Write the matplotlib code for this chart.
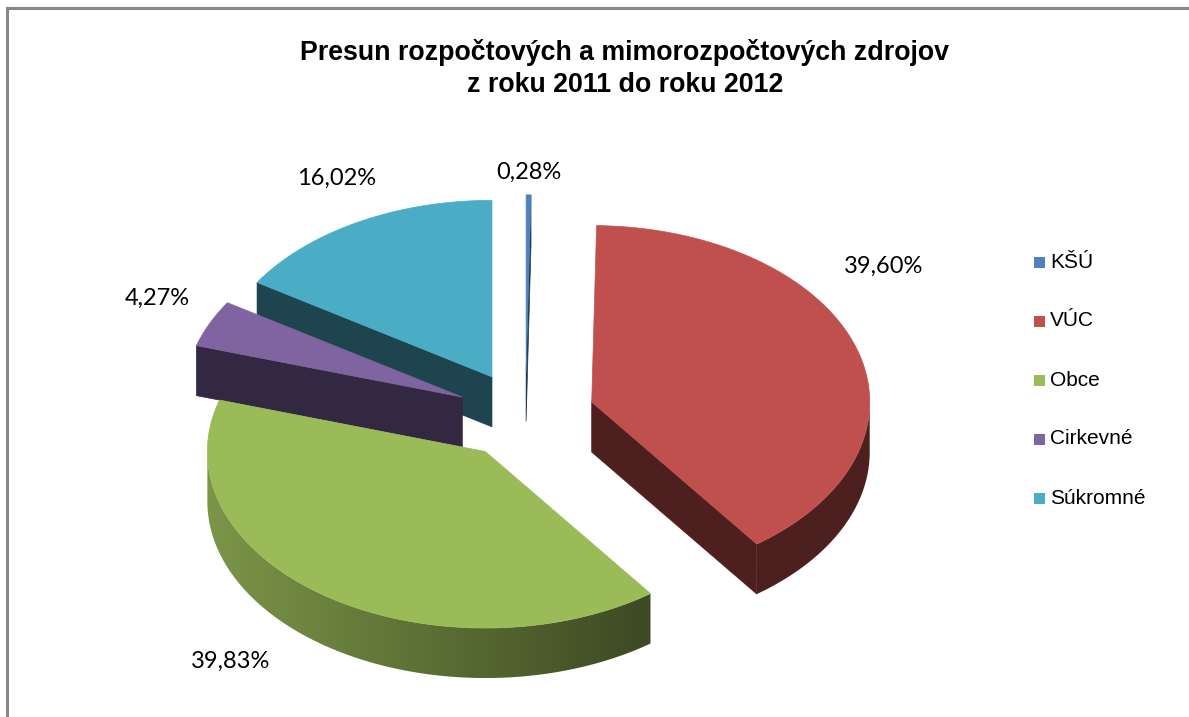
import numpy as np
import matplotlib
matplotlib.use("Agg")
import matplotlib.pyplot as plt
from matplotlib.patches import Polygon, Rectangle
from matplotlib.lines import Line2D
from matplotlib.colors import to_rgb

# ---- data ----
title = "Presun rozpočtových a mimorozpočtových zdrojov\nz roku 2011 do roku 2012"
categories = ["KŠÚ", "VÚC", "Obce", "Cirkevné", "Súkromné"]
values = [0.28, 39.60, 39.83, 4.27, 16.02]
labels = ["0,28%", "39,60%", "39,83%", "4,27%", "16,02%"]
colors = ["#4F81BD", "#C0504D", "#9BBB59", "#8064A2", "#4BACC6"]

# ---- layout (pixel space of the figure) ----
W, H = 1189, 717
CX, CY = 525.5, 415.5
RX, RY = 278.0, 176.5
DEPTH = 50.0
EXPLODE = 0.25
label_angle_shift = [0.0, -18.5, 2.4, 2.3, 2.5]
label_r = [1.125, 1.30, 1.50, 1.23, 1.258]

fig = plt.figure(figsize=(W / 100, H / 100), dpi=100)
ax = fig.add_axes([0, 0, 1, 1])
ax.axis("off")

total = sum(values)
fr = np.array(values) / total
ends = np.cumsum(fr) * 360.0
starts = ends - fr * 360.0


def shade(c, f):
    r, g, b = to_rgb(c)
    return (r * f, g * f, b * f)


def pt(cx, cy, t, dz=0.0):
    tr = np.radians(t)
    return cx + RX * np.sin(tr), cy - RY * np.cos(tr) + dz


def wall_factor(x):
    # horizontal gradient on the outer wall: lighter left, darker right
    x0, x1 = 207.0, 640.0
    u = np.clip((x - x0) / (x1 - x0), 0, 1)
    return 0.80 - 0.40 * u


slices = []
for i in range(len(values)):
    a0, a1 = starts[i], ends[i]
    mid = np.radians((a0 + a1) / 2)
    sx = CX + EXPLODE * RX * np.sin(mid)
    sy = CY - EXPLODE * RY * np.cos(mid)
    slices.append((sy, i, a0, a1, sx))

z = 1
for sy, i, a0, a1, sx in sorted(slices):
    c = colors[i]
    dark = shade(c, 0.40)
    # radial cut faces
    faces = []
    if np.sin(np.radians(a0)) < -1e-6:
        faces.append(a0)
    if np.sin(np.radians(a1)) > 1e-6:
        faces.append(a1)
    for t in faces:
        px, py = pt(sx, sy, t)
        poly = [(sx, sy), (px, py), (px, py + DEPTH), (sx, sy + DEPTH)]
        ax.add_patch(Polygon(poly, closed=True, facecolor=dark, edgecolor=dark,
                             lw=0.5, zorder=z))
        z += 1
    # outer wall (front half) with horizontal gradient
    w0, w1 = max(a0, 90.0), min(a1, 270.0)
    if w1 > w0:
        ts = np.linspace(w0, w1, 300)
        top = [pt(sx, sy, t) for t in ts]
        bot = [pt(sx, sy, t, DEPTH) for t in ts[::-1]]
        poly = np.array(top + bot)
        xmin, xmax = poly[:, 0].min(), poly[:, 0].max()
        ymin, ymax = poly[:, 1].min(), poly[:, 1].max()
        xs = np.linspace(xmin, xmax, 500)
        base = np.array(to_rgb(c))
        img = (wall_factor(xs)[:, None] * base[None, :])[None, :, :]
        clip = Polygon(poly, closed=True, facecolor="none", edgecolor="none",
                       transform=ax.transData)
        im = ax.imshow(img, extent=(xmin, xmax, ymax, ymin), origin="upper",
                       aspect="auto", interpolation="bilinear", zorder=z)
        im.set_clip_path(clip)
        z += 1
    # top face
    ts = np.linspace(a0, a1, max(4, int((a1 - a0) * 2)))
    arc = [pt(sx, sy, t) for t in ts]
    ax.add_patch(Polygon([(sx, sy)] + arc, closed=True, facecolor=c, edgecolor=c,
                         lw=0.5, zorder=z))
    z += 1

# data labels
for sy, i, a0, a1, sx in slices:
    t = (a0 + a1) / 2 + label_angle_shift[i]
    tr = np.radians(t)
    lx = sx + label_r[i] * RX * np.sin(tr)
    ly = sy - label_r[i] * RY * np.cos(tr)
    ax.text(lx, ly, labels[i], ha="center", va="center", fontsize=17,
            family="Lato", color="#000000", zorder=z)

# title
ax.text(625, 68, title, ha="center", va="center", fontsize=19.3, fontweight="bold",
        family="Liberation Sans", linespacing=1.3, color="#000000", zorder=z)

# legend
leg_x, leg_y0, leg_dy = 1034, 262, 59
for i, name in enumerate(categories):
    yy = leg_y0 + i * leg_dy
    ax.add_patch(Rectangle((leg_x, yy - 5.5), 11, 11, facecolor=colors[i],
                           edgecolor="none", zorder=z))
    ax.text(leg_x + 16, yy, name, ha="left", va="center", fontsize=15,
            family="Liberation Sans", color="#000000", zorder=z)

# chart area border (top and left visible)
ax.add_line(Line2D([6.5, W], [8, 8], color="#888888", lw=2.2, zorder=z))
ax.add_line(Line2D([7, 7], [8, H], color="#888888", lw=2.2, zorder=z))

ax.set_xlim(0, W)
ax.set_ylim(H, 0)

fig.savefig("out.png", dpi=100, facecolor="white")
